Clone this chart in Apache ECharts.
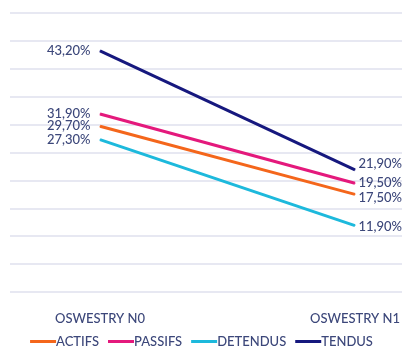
<!DOCTYPE html>
<html><head><meta charset="utf-8">
<script src="https://cdn.jsdelivr.net/npm/echarts@6/dist/echarts.min.js"></script>
<style>html,body{margin:0;padding:0;background:#fff;}#c{width:403px;height:347px;}</style>
</head><body><div id="c"></div>
<script>
const categories = ['OSWESTRY N0', 'OSWESTRY N1'];
const seriesNames = ['ACTIFS', 'PASSIFS', 'DETENDUS', 'TENDUS'];
const actifs = [29.7, 17.5];
const passifs = [31.9, 19.5];
const detendus = [27.3, 11.9];
const tendus = [43.2, 21.9];
const yTicks = { min: 0, max: 50, interval: 5 };

const colors = ['#f4661b', '#e4197c', '#1db9dc', '#16187e'];
const textColor = '#3c477a';
const font = 'Lato';
const rightOffsets = { ACTIFS: [0, 3], PASSIFS: [0, 0], DETENDUS: [0, 1], TENDUS: [0, -6] };

const values = [actifs, passifs, detendus, tendus];
const chart = echarts.init(document.getElementById('c'));
chart.setOption({
  animation: false,
  textStyle: { fontFamily: font },
  grid: [
    { left: 10, right: 1, top: 13, bottom: 55 },
    { left: 100, right: 48, top: 13, bottom: 55 }
  ],
  xAxis: [
    { gridIndex: 0, type: 'category', data: categories, show: false },
    { gridIndex: 1, type: 'category', data: categories, boundaryGap: false,
      axisLine: { show: false }, axisTick: { show: false }, splitLine: { show: false },
      axisLabel: { color: textColor, fontSize: 13, fontFamily: font, fontWeight: 500, margin: 20 } }
  ],
  yAxis: [
    { gridIndex: 0, type: 'value', min: yTicks.min, max: yTicks.max, interval: yTicks.interval,
      axisLabel: { show: false }, axisLine: { show: false }, axisTick: { show: false },
      splitLine: { lineStyle: { color: '#dfe0ee', width: 1.5 } } },
    { gridIndex: 1, type: 'value', min: yTicks.min, max: yTicks.max, interval: yTicks.interval, show: false,
      splitLine: { show: false } }
  ],
  legend: {
    top: 330, left: 'center', icon: 'rect', itemWidth: 26, itemHeight: 3, itemGap: 9,
    textStyle: { color: textColor, fontSize: 13, fontFamily: font, fontWeight: 500, padding: [0, 0, 0, -5] },
    data: seriesNames
  },
  series: seriesNames.map((name, i) => ({
    name, type: 'line', xAxisIndex: 1, yAxisIndex: 1,
    data: values[i].map((v, j) => ({
      value: v,
      label: j === 0
        ? { show: true, position: 'left', distance: 9 }
        : { show: true, position: 'right', distance: 3, offset: rightOffsets[name] }
    })),
    color: colors[i],
    lineStyle: { width: 3, color: colors[i] },
    showSymbol: true, symbol: 'circle', symbolSize: 1,
    itemStyle: { color: colors[i] },
    label: { show: true, color: textColor, fontSize: 13, fontFamily: font, fontWeight: 500,
      formatter: p => p.value.toFixed(2).replace('.', ',') + '%' }
  }))
});
</script></body></html>
